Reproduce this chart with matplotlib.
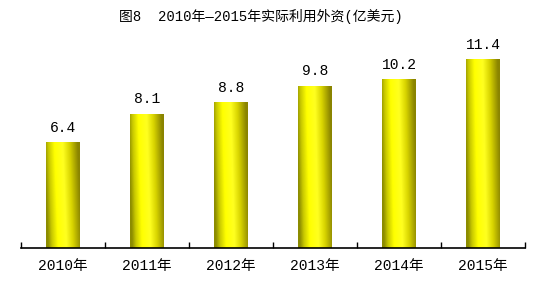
import numpy as np
import matplotlib
matplotlib.use('Agg')
import matplotlib.pyplot as plt
from matplotlib.colors import LinearSegmentedColormap

fam = ['Liberation Mono', 'Noto Sans CJK SC', 'DejaVu Sans']
plt.rcParams['font.family'] = fam

years = ['2010年', '2011年', '2012年', '2013年', '2014年', '2015年']
values = [6.4, 8.1, 8.8, 9.8, 10.2, 11.4]
title = '图8  2010年—2015年实际利用外资(亿美元)'

fig = plt.figure(figsize=(5.46, 2.9), dpi=100)
ax = fig.add_axes([21 / 546, 42 / 290, 504 / 546, 208 / 290])

x = np.arange(len(years))
bars = ax.bar(x, values, width=0.4, color='#ffff00', edgecolor='none')

# yellow "cylinder" shading with a slight diagonal
cmap = LinearSegmentedColormap.from_list('gold', [
    (0.0, '#8c8c00'), (0.12, '#c8c800'), (0.3, '#ffff00'),
    (0.55, '#ffff20'), (0.75, '#d8d400'), (1.0, '#8a8400')])
xx, yy = np.meshgrid(np.linspace(0, 1, 80), np.linspace(0, 1, 200))
grad = np.clip(xx + 0.12 * (yy - 0.5), 0, 1)
for b in bars:
    x0, y0 = b.get_x(), b.get_y()
    im = ax.imshow(grad, cmap=cmap, aspect='auto', origin='lower',
                   extent=[x0, x0 + b.get_width(), y0, y0 + b.get_height()],
                   vmin=0, vmax=1, zorder=2)
    im.set_clip_path(b)

for xi, v in zip(x, values):
    ax.text(xi, v + 0.45, f'{v:.1f}', ha='center', va='bottom', fontsize=10.5)

ax.set_xlim(-0.5, len(years) - 0.5)
ax.set_ylim(0, 12.56)
ax.set_xticks(x)
ax.set_xticklabels(years, fontsize=10.5)
ax.tick_params(axis='x', which='major', length=0, pad=8)
ax.set_xticks(np.arange(-0.5, len(years)), minor=True)
ax.tick_params(axis='x', which='minor', direction='in', length=4, width=1, color='black')
ax.set_yticks([])
for s in ['top', 'right', 'left']:
    ax.spines[s].set_visible(False)
ax.spines['bottom'].set_linewidth(1.2)

fig.text(0.478, 1 - 16 / 290, title, ha='center', va='center', fontsize=10)

fig.savefig('out.png', dpi=100)
